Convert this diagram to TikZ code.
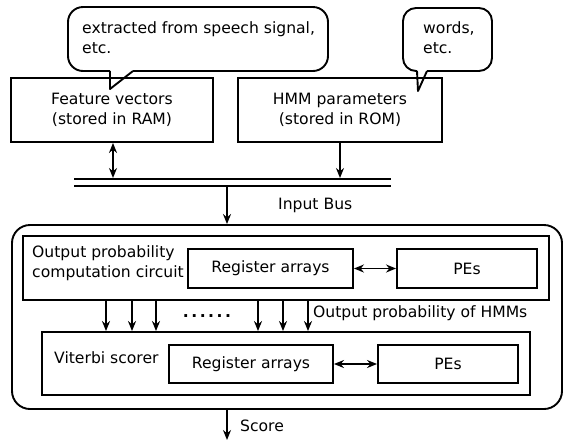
\documentclass[tikz,border=0pt]{standalone}
\usepackage{fontspec}
\setmainfont{DejaVu Sans}
\usetikzlibrary{arrows.meta}
\begin{document}
\begin{tikzpicture}[x=1pt,y=-1pt,
  every node/.style={font=\fontsize{15.6}{20}\selectfont, inner sep=0pt},
  box/.style={draw, line width=1.9pt, align=center},
  ln/.style={line width=1.9pt},
  arr/.style={ln, -{Stealth[length=10pt,width=8pt]}},
  darr/.style={ln, {Stealth[length=10pt,width=8pt]}-{Stealth[length=10pt,width=8pt]}}]
\useasboundingbox (0,0) rectangle (565,440);
% callouts
\draw[ln, rounded corners=15pt] (133,71) -- (328,71) -- (328,7) -- (68,7) -- (68,71) -- (110,71);
\coordinate (tipA) at (110,89);
\draw[ln, line join=round] (110,71) -- (tipA) -- (133,71);
\node[anchor=north west, align=left] (callA) at (82,21) {extracted from speech signal,\\etc.};
\draw[ln, rounded corners=13pt] (427,71) -- (492,71) -- (492,8) -- (403,8) -- (403,71) -- (417,71);
\coordinate (tipB) at (418,91);
\draw[ln, line join=round] (417,71) -- (tipB) -- (427,71);
\node[anchor=north west, align=left] (callB) at (423,21) {words,\\etc.};
% top boxes
\node[box, minimum width=202pt, minimum height=64pt] (fv) at (112,110) {Feature vectors\\(stored in RAM)};
\node[box, minimum width=204pt, minimum height=64pt] (hmm) at (340,110) {HMM parameters\\(stored in ROM)};
% bus
\coordinate (busL) at (74,179);
\coordinate (busR) at (391,179);
\draw[ln] (busL) -- (busR);
\draw[ln] (74,186) -- (391,186);
\coordinate (fvbus) at (113,178);
\coordinate (hmmbus) at (340,178);
\draw[darr] (fv.south -| fvbus) -- (fvbus);
\draw[arr] (hmm.south) -- (hmmbus);
\node[anchor=west] (ib) at (278,205) {Input Bus};
% outer box
\node[draw, ln, rounded corners=18pt, minimum width=550pt, minimum height=184pt] (outer) at (287,317) {};
\coordinate (busdown) at (227,186);
\draw[arr] (busdown) -- (busdown |- outer.north);
% output probability box
\node[box, minimum width=526pt, minimum height=64pt] (opc) at (286,268) {};
\node[anchor=north west, align=left] (opct) at (32,245) {Output probability\\computation circuit};
\node[box, minimum width=165pt, minimum height=39pt] (ra1) at (270.5,268.5) {Register arrays};
\node[box, minimum width=140pt, minimum height=39pt] (pe1) at (467,268.5) {PEs};
\draw[darr] (ra1) -- (pe1);
% viterbi box
\node[box, minimum width=488pt, minimum height=63pt] (vit) at (286,363.5) {};
\node[anchor=west] (vitt) at (54,358) {Viterbi scorer};
\node[box, minimum width=164pt, minimum height=38pt] (ra2) at (251,364) {Register arrays};
\node[box, minimum width=140pt, minimum height=38pt] (pe2) at (448,364) {PEs};
\draw[darr] (ra2) -- (pe2);
% down arrows
\foreach \x/\n in {106/a,132/b,156/c,258/d,283/e,308/f}{
  \coordinate (d\n) at (\x,300);
  \draw[arr] (d\n) -- (d\n |- vit.north);
}
\node (dots) at (207,316) {\bfseries .\kern2.5pt.\kern2.5pt.\kern2.5pt.\kern2.5pt.\kern2.5pt.};
\node[anchor=west] (oph) at (313,313) {Output probability of HMMs};
% score
\coordinate (sc) at (227,440);
\draw[arr] (outer.south -| sc) -- (sc);
\node[anchor=west] (scl) at (240,426) {Score};
\end{tikzpicture}
\end{document}
